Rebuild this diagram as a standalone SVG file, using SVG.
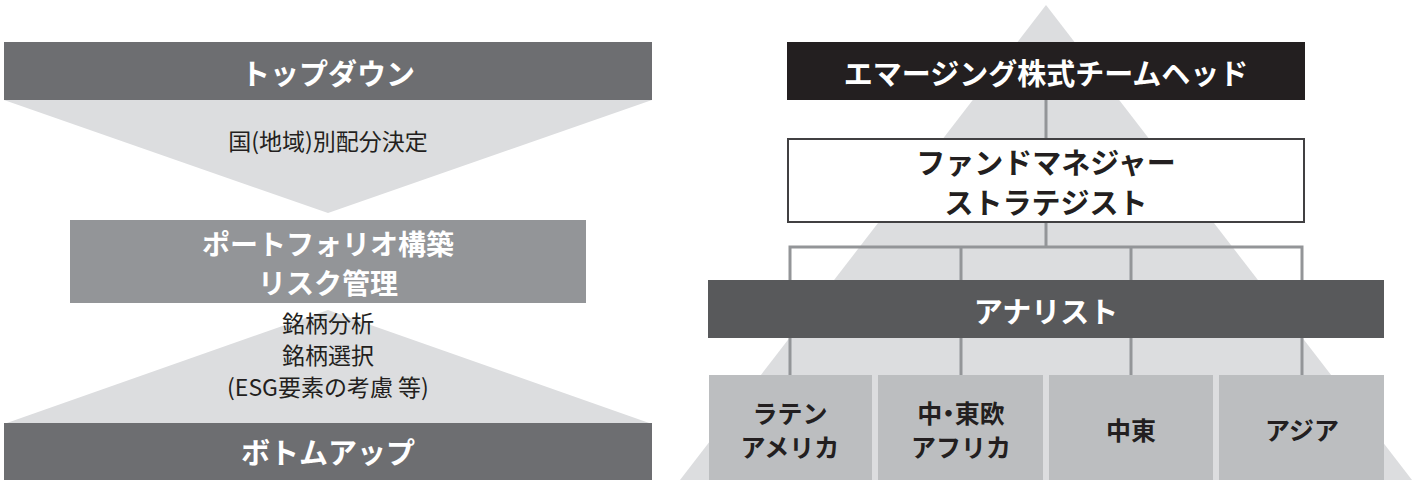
<svg xmlns="http://www.w3.org/2000/svg" width="1415" height="480" viewBox="0 0 1415 480">
<style>
.t{font-family:"Noto Sans CJK JP","Noto Sans",sans-serif;text-anchor:middle;dominant-baseline:central}
.hw{fill:#ffffff;font-weight:700;font-size:29px}
.hd{fill:#231f20;font-weight:700;font-size:29px}
.d{fill:#231f20;font-weight:400;font-size:23px}
.r{fill:#231f20;font-weight:700;font-size:25px}
.ln{stroke:#939598;stroke-width:3;fill:none}
</style>
<rect width="1415" height="480" fill="#ffffff"/>
<!-- left side -->
<g id="down-arrow"><polygon points="4,100 652,100 328,213" fill="#dcdddf"/><text class="t d" x="328" y="140">国(地域)別配分決定</text></g>
<g id="up-arrow"><polygon points="4,424 652,424 328,310" fill="#dcdddf"/>
<text class="t d"><tspan x="328" y="321.5">銘柄分析</tspan><tspan x="328" y="353.5">銘柄選択</tspan><tspan x="328" y="385.5">(ESG要素の考慮 等)</tspan></text></g>
<g id="topdown"><rect x="4" y="42" width="648" height="58" fill="#6d6e71"/><text class="t hw" x="328" y="72">トップダウン</text></g>
<g id="portfolio"><rect x="70" y="220" width="516" height="83" fill="#939598"/><text class="t hw" style="font-size:28px"><tspan x="328" y="242.5">ポートフォリオ構築</tspan><tspan x="328" y="281.5">リスク管理</tspan></text></g>
<g id="bottomup"><rect x="4" y="423" width="648" height="57" fill="#6d6e71"/><text class="t hw" x="328" y="451">ボトムアップ</text></g>
<!-- right side -->
<polygon id="pyramid" points="1046,5 680,480 1412,480" fill="#dcdddf"/>
<g id="connectors">
<line class="ln" x1="1046" y1="100" x2="1046" y2="138"/>
<line class="ln" x1="1046" y1="222" x2="1046" y2="247"/>
<polyline class="ln" points="790,280 790,247 1302,247 1302,280"/>
<line class="ln" x1="961" y1="247" x2="961" y2="280"/>
<line class="ln" x1="1131" y1="247" x2="1131" y2="280"/>
<line class="ln" x1="790" y1="338" x2="790" y2="375"/>
<line class="ln" x1="961" y1="338" x2="961" y2="375"/>
<line class="ln" x1="1131" y1="338" x2="1131" y2="375"/>
<line class="ln" x1="1302" y1="338" x2="1302" y2="375"/>
</g>
<g id="head"><rect x="787" y="42" width="518" height="58" fill="#231f20"/><text class="t hw" x="1046" y="72">エマージング株式チームヘッド</text></g>
<g id="fm"><rect x="788" y="139" width="516" height="83" fill="#ffffff" stroke="#414042" stroke-width="2"/><text class="t hd"><tspan x="1046" y="161">ファンドマネジャー</tspan><tspan x="1046" y="201">ストラテジスト</tspan></text></g>
<g id="analyst"><rect x="708" y="280" width="676" height="58" fill="#58595b"/><text class="t hw" x="1046" y="310">アナリスト</text></g>
<g id="latam"><rect x="709" y="375" width="163" height="105" fill="#bcbec0"/><text class="t r"><tspan x="790" y="412">ラテン</tspan><tspan x="790" y="446">アメリカ</tspan></text></g>
<g id="emea"><rect x="878" y="375" width="165" height="105" fill="#bcbec0"/><text class="t r"><tspan x="961" y="412" style="font-feature-settings:'palt'">中・東欧</tspan><tspan x="961" y="446">アフリカ</tspan></text></g>
<g id="me"><rect x="1049" y="375" width="164" height="105" fill="#bcbec0"/><text class="t r" x="1131" y="429">中東</text></g>
<g id="asia"><rect x="1219" y="375" width="165" height="105" fill="#bcbec0"/><text class="t r" x="1302" y="429">アジア</text></g>
</svg>
